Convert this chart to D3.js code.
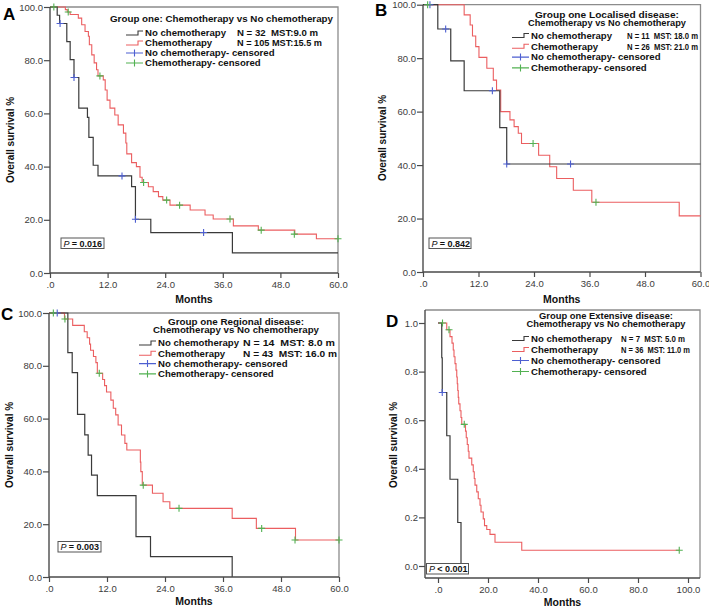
<!DOCTYPE html>
<html><head><meta charset="utf-8">
<script src="https://cdn.jsdelivr.net/npm/d3@7"></script>
<style>
html,body{margin:0;padding:0;background:#fff;}
svg{display:block;font-family:"Liberation Sans",Arial,sans-serif;}
text{white-space:pre;}
</style></head>
<body><svg id="chart" width="709" height="608"></svg>
<script>
// ---------- ticks ----------
const monthTicks = [0, 12, 24, 36, 48, 60];
const monthTickLabels = [".0", "12.0", "24.0", "36.0", "48.0", "60.0"];
const pctTicks = [0, 20, 40, 60, 80, 100];
const pctTickLabels = ["0.0", "20.0", "40.0", "60.0", "80.0", "100.0"];
const dMonthTicks = [0, 20, 40, 60, 80, 100];
const dMonthTickLabels = [".0", "20.0", "40.0", "60.0", "80.0", "100.0"];
const dSurvTicks = [0, 0.2, 0.4, 0.6, 0.8, 1.0];
const dSurvTickLabels = ["0.0", "0.2", "0.4", "0.6", "0.8", "1.0"];

// ---------- Panel A : [month, survival %] ----------
const aNoChemo = [[0,100],[1.5,96.9],[2.0,93.8],[3.5,87.0],[4.2,80.2],[5.0,73.5],[6.0,62.0],[7.8,58.5],[8.1,51.0],[9.0,40.5],[10.0,36.5],[17.0,32.5],[17.8,20.2],[21.0,15.2],[38.0,7.6],[60,7.6]];
const aNoChemoCens = [[2.1,93.8],[5.0,73.5],[15.0,36.5],[17.8,20.2],[32.0,15.2]];
const aChemo = [[0,100],[3.2,99.0],[3.6,98.1],[4.2,97.2],[5.9,95.8],[6.6,93.3],[7.3,90.8],[8.0,89.0],[8.2,85.8],[8.7,82.0],[9.2,79.0],[9.7,76.4],[10.0,74.1],[11.1,72.6],[11.5,68.8],[11.9,65.0],[12.5,62.0],[13.5,59.4],[14.2,55.7],[15.3,52.6],[15.8,48.9],[16.0,44.8],[17.0,41.5],[18.0,40.0],[18.75,36.0],[19.2,34.0],[20.5,32.4],[21.5,30.6],[22.6,28.7],[23.5,27.4],[25.0,25.5],[29.2,23.7],[32.3,21.8],[34.0,20.3],[38.2,17.7],[43.4,16.1],[51.0,14.6],[55.5,12.9],[60,12.9]];
const aChemoCens = [[0.8,100],[3.8,98.1],[10.4,74.1],[19.5,34.0],[24.3,27.4],[27.0,25.5],[37.5,20.3],[44.0,16.1],[50.9,14.6],[60,12.9]];

// ---------- Panel B ----------
const bNoChemo = [[0,100],[3.2,90.9],[6.0,79.0],[8.9,67.8],[16.6,54.0],[18.1,40.4],[60,40.4]];
const bNoChemoCens = [[1.5,100],[4.9,90.9],[15.0,67.8],[18.1,40.4],[31.9,40.4]];
const bChemo = [[0,100],[8.9,96.2],[10.2,92.4],[10.7,88.3],[11.4,84.3],[12.1,80.3],[13.8,76.2],[15.2,71.8],[15.9,68.1],[16.8,60.0],[18.8,56.9],[19.7,54.4],[20.6,51.9],[21.3,48.1],[25.0,43.7],[27.4,39.4],[28.9,35.0],[32.5,30.6],[36.5,26.1],[55.4,21.0],[60,21.0]];
const bChemoCens = [[1.0,100],[23.8,48.1],[37.4,26.1]];

// ---------- Panel C ----------
const cNoChemo = [[0,100],[3.9,85.0],[4.8,77.4],[5.9,61.6],[7.4,53.8],[8.1,46.2],[8.8,38.6],[10.0,30.8],[18.0,15.3],[21.0,7.7],[37.9,0]];
const cNoChemoCens = [[1.7,100]];
const cChemo = [[0,100],[3.2,97.7],[4.9,95.3],[7.3,92.9],[7.9,90.6],[8.4,88.2],[8.6,85.9],[9.2,83.5],[9.7,81.2],[10.0,77.2],[11.1,74.8],[11.5,72.5],[11.9,70.1],[12.8,67.0],[13.3,63.9],[13.8,61.4],[14.3,57.6],[15.0,53.8],[15.7,50.6],[16.1,48.1],[18.9,43.5],[19.0,39.9],[19.3,34.8],[21.4,31.7],[23.6,28.5],[25.0,26.0],[37.9,22.2],[42.9,18.4],[51.0,14.0],[60,14.0]];
const cChemoCens = [[0.9,100],[3.3,97.7],[10.4,77.2],[19.5,34.8],[26.9,26.0],[44.0,18.4],[50.9,14.0],[60,14.0]];

// ---------- Panel D : [month, survival proportion] ----------
const dNoChemo = [[0,1],[1.5,0.857],[1.7,0.714],[3.5,0.536],[4.8,0.357],[7.9,0.179],[9.2,0]];
const dNoChemoCens = [[1.7,0.714]];
const dChemo = [[0,1],[3.5,0.972],[4.8,0.944],[5.6,0.917],[6.1,0.889],[6.4,0.861],[6.8,0.833],[7.2,0.806],[7.5,0.778],[7.7,0.75],[7.9,0.722],[8.1,0.694],[8.3,0.667],[8.8,0.639],[9.2,0.611],[9.5,0.583],[11.0,0.555],[11.3,0.528],[11.7,0.5],[12.1,0.472],[12.4,0.444],[13.5,0.416],[14.1,0.388],[14.5,0.36],[14.8,0.333],[15.5,0.305],[16.1,0.277],[16.8,0.25],[17.2,0.222],[18.1,0.194],[18.6,0.166],[19.5,0.15],[20.8,0.13],[22.8,0.098],[33.5,0.065],[96.5,0.065]];
const dChemoCens = [[1.8,1],[4.4,0.972],[10.5,0.583],[96.5,0.065]];

// ---------- texts ----------
const legendNames = ["No chemotherapy", "Chemotherapy", "No chemotherapy- censored", "Chemotherapy- censored"];
const aTitle = ["Group one: Chemotherapy vs No chemotherapy"];
const bTitle = ["Group one Localised disease:", "Chemotherapy vs No chemotherapy"];
const cTitle = ["Group one Regional disease:", "Chemotherapy vs No chemotherapy"];
const dTitle = ["Group one Extensive disease:", "Chemotherapy vs No chemotherapy"];
const aStats = ["N = 32  MST:9.0 m", "N = 105 MST:15.5 m"];
const bStats = ["N = 11  MST: 18.0 m", "N = 26  MST: 21.0 m"];
const cStats = ["N = 14  MST: 8.0 m", "N = 43  MST: 16.0 m"];
const dStats = ["N = 7  MST: 5.0 m", "N = 36  MST: 11.0 m"];
const pValues = ["= 0.016", "= 0.842", "= 0.003", "< 0.001"];
const panelLetters = ["A", "B", "C", "D"];

// ---------- drawing ----------
const svg = d3.select("#chart");
const FONT = '"Liberation Sans",Arial,sans-serif';
const BLACK = "#3a3a3a", RED = "#eb5e60", BLUE = "#4d5fd1", GREEN = "#52b152";
const AX = "#4a4a4a", FRAME = "#8c8c8c";

function drawPanel(c) {
  const g = svg.append("g");
  const x = d3.scaleLinear().domain(c.xDom).range(c.xRange);
  const y = d3.scaleLinear().domain(c.yDom).range(c.yRange);
  const f = c.frame;
  g.append("path").attr("d", `M${f.l},${f.t}H${f.r}V${f.b}`)
    .attr("fill", "none").attr("stroke", FRAME).attr("stroke-width", 1.3);

  const line = d3.line().x(d => x(d[0])).y(d => y(d[1])).curve(d3.curveStepAfter);
  g.append("path").datum(c.chemo).attr("d", line).attr("fill", "none")
    .attr("stroke", RED).attr("stroke-width", 1.1);
  g.append("path").datum(c.noChemo).attr("d", line).attr("fill", "none")
    .attr("stroke", BLACK).attr("stroke-width", 1.2);
  const plus = (data, col) => {
    g.selectAll(null).data(data).enter().append("path")
      .attr("d", d => `M${x(d[0]) - 3.5},${y(d[1])}h7M${x(d[0])},${y(d[1]) - 3.5}v7`)
      .attr("stroke", col).attr("stroke-width", 1.1).attr("fill", "none");
  };
  plus(c.noChemoCens, BLUE);
  plus(c.chemoCens, GREEN);

  const xa = d3.axisBottom(x).tickValues(c.xTicks).tickSize(5).tickPadding(3)
    .tickFormat((d, i) => c.xLabels[i]);
  const ya = d3.axisLeft(y).tickValues(c.yTicks).tickSize(6).tickPadding(1)
    .tickFormat((d, i) => c.yLabels[i]);
  const gx = g.append("g").attr("transform", `translate(0,${f.b})`).call(xa);
  const gy = g.append("g").attr("transform", `translate(${f.l},0)`).call(ya);
  gx.select(".domain").attr("d", `M${f.l},0H${f.r}`);
  gy.select(".domain").attr("d", `M0,${f.t}V${f.b}`);
  [gx, gy].forEach(a => {
    a.select(".domain").attr("stroke", AX).attr("stroke-width", 1.4);
    a.selectAll(".tick line").attr("stroke", AX).attr("stroke-width", 1.2);
    a.selectAll(".tick text").attr("fill", "#3c3c3c")
      .attr("font-family", FONT).attr("font-size", 9.5);
  });

  g.append("text").attr("x", (f.l + f.r) / 2).attr("y", c.monthsY)
    .attr("text-anchor", "middle").attr("font-weight", "bold").attr("font-size", 10.5)
    .attr("fill", "#111").text("Months");
  g.append("text").attr("transform", `translate(${c.yTitleX},${c.yTitleY}) rotate(-90)`)
    .attr("text-anchor", "middle").attr("font-weight", "bold").attr("font-size", 10)
    .attr("fill", "#111").text("Overall survival %");

  g.append("text").attr("x", c.letterX).attr("y", c.letterY).attr("font-weight", "bold")
    .attr("font-size", 17).attr("fill", "#000").text(c.letter);

  const L = c.legend;
  c.title.forEach((t, i) => {
    g.append("text").attr("x", L.titleX).attr("y", L.titleY + i * 8.6)
      .attr("text-anchor", L.titleAnchor).attr("font-weight", "bold")
      .attr("font-size", c.title.length > 1 ? 8.4 : 9.6)
      .attr("textLength", L.titleW[i]).attr("lengthAdjust", "spacingAndGlyphs")
      .attr("fill", "#111").text(t);
  });
  const cols = [BLACK, RED, BLUE, GREEN];
  legendNames.forEach((name, i) => {
    const yy = L.rowY + i * L.rowGap;
    const sx = L.symX;
    if (i < 2) {
      g.append("path").attr("d", `M${sx},${yy + 2}H${sx + 12}V${yy - 2}H${sx + 17}`)
        .attr("fill", "none").attr("stroke", cols[i]).attr("stroke-width", 1.1);
    } else {
      g.append("path").attr("d", `M${sx},${yy}H${sx + 17}M${sx + 8.5},${yy - 3.5}v7`)
        .attr("fill", "none").attr("stroke", cols[i]).attr("stroke-width", 1.1);
    }
    g.append("text").attr("x", L.textX).attr("y", yy + 3.3).attr("font-weight", "bold")
      .attr("font-size", 9.6).attr("fill", "#111").text(name);
    if (i < 2) {
      g.append("text").attr("x", L.statX).attr("y", yy + 3.3).attr("font-weight", "bold")
        .attr("font-size", L.statFont).attr("textLength", L.statW[i]).attr("lengthAdjust", "spacingAndGlyphs")
        .attr("fill", "#111").text(c.stats[i]);
    }
  });

  const P = c.pbox;
  g.append("rect").attr("x", P.x).attr("y", P.y).attr("width", P.w).attr("height", 10.5)
    .attr("fill", "#fff").attr("stroke", "#555").attr("stroke-width", 1);
  const pt = g.append("text").attr("x", P.x + 2.5).attr("y", P.y + 8.6)
    .attr("font-size", 9).attr("fill", "#111");
  pt.append("tspan").attr("font-style", "italic").text("P ");
  pt.append("tspan").attr("font-weight", "bold").text(c.pText);
}

drawPanel({
  letter: panelLetters[0], letterX: 3, letterY: 20,
  xDom: [0, 60], xRange: [50, 338], yDom: [0, 100], yRange: [273, 7],
  frame: { l: 50, t: 7, r: 338, b: 273 },
  xTicks: monthTicks, xLabels: monthTickLabels, yTicks: pctTicks, yLabels: pctTickLabels,
  noChemo: aNoChemo, noChemoCens: aNoChemoCens, chemo: aChemo, chemoCens: aChemoCens,
  monthsY: 303, yTitleX: 14, yTitleY: 140,
  title: aTitle, stats: aStats,
  legend: { titleX: 110, titleY: 21.5, titleAnchor: "start", titleW: [223], rowY: 33, rowGap: 10,
            symX: 126, textX: 145, statX: 237, statW: [81, 85], statFont: 9.6 },
  pbox: { x: 61, y: 238, w: 43 }, pText: pValues[0]
});
drawPanel({
  letter: panelLetters[1], letterX: 375, letterY: 16,
  xDom: [0, 60], xRange: [423, 700.5], yDom: [0, 100], yRange: [272, 4.7],
  frame: { l: 423, t: 4.7, r: 700.5, b: 272 },
  xTicks: monthTicks, xLabels: monthTickLabels, yTicks: pctTicks, yLabels: pctTickLabels,
  noChemo: bNoChemo, noChemoCens: bNoChemoCens, chemo: bChemo, chemoCens: bChemoCens,
  monthsY: 303, yTitleX: 386, yTitleY: 138,
  title: bTitle, stats: bStats,
  legend: { titleX: 607, titleY: 17.5, titleAnchor: "middle", titleW: [144, 158], rowY: 35.5, rowGap: 10.8,
            symX: 512, textX: 531, statX: 627, statW: [71, 71], statFont: 8.4 },
  pbox: { x: 429, y: 238, w: 42 }, pText: pValues[1]
});
drawPanel({
  letter: panelLetters[2], letterX: 1, letterY: 320,
  xDom: [0, 60], xRange: [49, 339], yDom: [0, 100], yRange: [577, 313],
  frame: { l: 49, t: 313, r: 339, b: 577 },
  xTicks: monthTicks, xLabels: monthTickLabels, yTicks: pctTicks, yLabels: pctTickLabels,
  noChemo: cNoChemo, noChemoCens: cNoChemoCens, chemo: cChemo, chemoCens: cChemoCens,
  monthsY: 605, yTitleX: 13, yTitleY: 445,
  title: cTitle, stats: cStats,
  legend: { titleX: 236, titleY: 324.5, titleAnchor: "middle", titleW: [136, 166], rowY: 343, rowGap: 10.3,
            symX: 139, textX: 158, statX: 243, statW: [92, 94], statFont: 9.6 },
  pbox: { x: 58, y: 541.5, w: 43 }, pText: pValues[2]
});
drawPanel({
  letter: panelLetters[3], letterX: 386, letterY: 327,
  xDom: [0, 100], xRange: [438, 688], yDom: [0, 1], yRange: [566, 323],
  frame: { l: 425, t: 310, r: 700, b: 578 },
  xTicks: dMonthTicks, xLabels: dMonthTickLabels, yTicks: dSurvTicks, yLabels: dSurvTickLabels,
  noChemo: dNoChemo, noChemoCens: dNoChemoCens, chemo: dChemo, chemoCens: dChemoCens,
  monthsY: 606, yTitleX: 397, yTitleY: 445,
  title: dTitle, stats: dStats,
  legend: { titleX: 606, titleY: 318.5, titleAnchor: "middle", titleW: [134, 159], rowY: 338.5, rowGap: 11,
            symX: 512, textX: 531, statX: 621, statW: [64, 69], statFont: 8.6 },
  pbox: { x: 426.5, y: 563.5, w: 42 }, pText: pValues[3]
});
</script></body></html>
